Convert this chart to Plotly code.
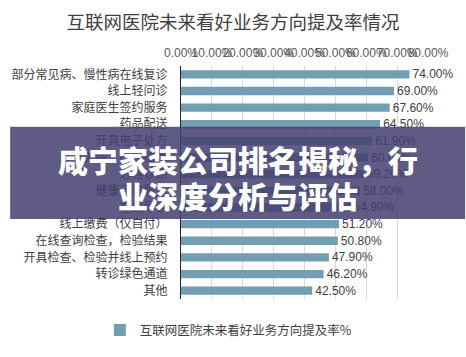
import plotly.graph_objects as go

categories = [
    "部分常见病、慢性病在线复诊",
    "线上轻问诊",
    "家庭医生签约服务",
    "药品配送",
    "开具电子处方",
    "线上入院、医保结算",
    "远程诊断",
    "健康咨询服务",
    "在线导诊",
    "线上缴费（仅自付）",
    "在线查询检查，检验结果",
    "开具检查、检验并线上预约",
    "转诊绿色通道",
    "其他",
]
values = [0.740, 0.690, 0.676, 0.645, 0.619, 0.606, 0.592, 0.580, 0.549,
          0.512, 0.508, 0.479, 0.462, 0.425]
series_name = "互联网医院未来看好业务方向提及率%"
chart_title = "互联网医院未来看好业务方向提及率情况"
banner_lines = ["咸宁家装公司排名揭秘，行", "业深度分析与评估"]
x_ticks = [0, 0.1, 0.2, 0.3, 0.4, 0.5, 0.6, 0.7, 0.8]

FONT = "Noto Sans CJK SC"
BAR = "#739DB1"

fig = go.Figure()
fig.add_trace(go.Bar(
    y=categories, x=values, orientation="h", name=series_name,
    marker=dict(color=BAR, line=dict(width=0)),
    width=0.5,
    text=[f"{v*100:.2f}%" for v in values],
    textposition="outside", cliponaxis=False, constraintext="none",
    textfont=dict(family="Liberation Sans", size=12, color="#404040"),
    showlegend=True,
))

fig.update_layout(
    width=466, height=357,
    margin=dict(l=175, r=38, t=66, b=49),
    paper_bgcolor="white", plot_bgcolor="white",
    font=dict(family=FONT, color="#404040"),
    title=dict(text=chart_title, x=0.5, xanchor="center", y=0.937, yanchor="middle",
               font=dict(family=FONT, size=18.5, color="#404040")),
    bargap=0.5,
    legend=dict(orientation="h", x=(224-175)/253, xanchor="center", y=-0.135, yanchor="middle",
                font=dict(family=FONT, size=12.5, color="#404040"),
                itemwidth=30, itemsizing="constant"),
    xaxis=dict(side="top", range=[0, 0.8], tickvals=x_ticks, tickformat=".2%",
               tickangle=0, automargin=False,
               showgrid=True, gridcolor="#D9D9D9", gridwidth=1,
               zeroline=False, showline=False, ticks="",
               tickfont=dict(family="Liberation Sans", size=12, color="#595959"),
               ticklabelstandoff=6),
    yaxis=dict(autorange="reversed", showline=True, linecolor="#262626", linewidth=1,
               ticks="", showgrid=False,
               tickfont=dict(family=FONT, size=12, color="#404040"),
               ticklabelstandoff=10),
)

# semi-transparent banner overlay
fig.add_shape(type="rect", xref="paper", yref="paper",
              x0=-175/253, x1=1 + 38/253, y0=(357-49-225)/242, y1=(357-49-129)/242,
              fillcolor="rgba(67,62,112,0.85)", line=dict(width=0), layer="above")
for i, line in enumerate(banner_lines):
    fig.add_annotation(text=line, xref="paper", yref="paper",
                       x=(233-175)/253, y=(308-(163 + 37*i))/242,
                       xanchor="center", yanchor="middle", showarrow=False,
                       font=dict(family=FONT, size=30, color="white", weight=900))

fig.write_html("out.html")
